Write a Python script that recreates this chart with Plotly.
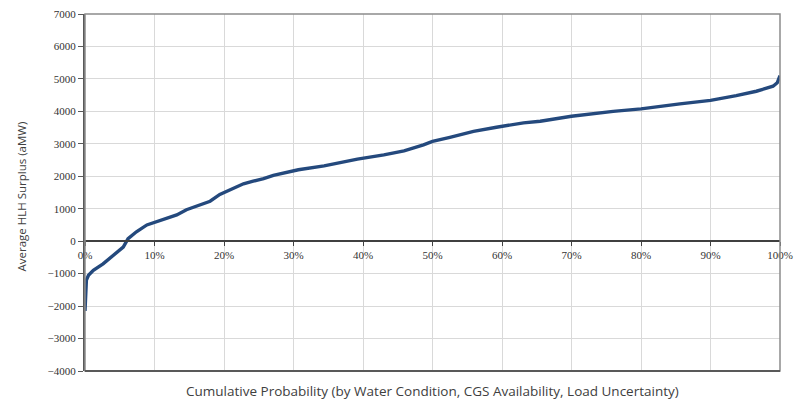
import plotly.graph_objects as go

cum_prob = [0.0, 0.001, 0.002, 0.005, 0.012, 0.026, 0.041, 0.055, 0.062, 0.074, 0.089,
            0.103, 0.118, 0.132, 0.146, 0.165, 0.18, 0.194, 0.213, 0.228, 0.242,
            0.257, 0.271, 0.29, 0.307, 0.344, 0.392, 0.43, 0.459, 0.487, 0.50,
            0.525, 0.559, 0.592, 0.631, 0.655, 0.70, 0.76, 0.80, 0.856, 0.90,
            0.937, 0.966, 0.99, 0.996, 1.0]
surplus = [-2150, -1500, -1200, -1050, -900, -700, -440, -180, 80, 290, 500,
           600, 730, 810, 970, 1100, 1230, 1440, 1615, 1770, 1850,
           1925, 2030, 2115, 2200, 2320, 2530, 2660, 2785, 2970, 3075,
           3200, 3385, 3510, 3645, 3695, 3850, 4000, 4075, 4230, 4340,
           4485, 4620, 4775, 4880, 5100]

y_ticks = [-4000, -3000, -2000, -1000, 0, 1000, 2000, 3000, 4000, 5000, 6000, 7000]
x_ticks = [0, 0.1, 0.2, 0.3, 0.4, 0.5, 0.6, 0.7, 0.8, 0.9, 1.0]
x_tick_labels = ["0%", "10%", "20%", "30%", "40%", "50%", "60%", "70%", "80%", "90%", "100%"]

x_title = "Cumulative Probability (by Water Condition, CGS Availability, Load Uncertainty)"
y_title = "Average HLH Surplus (aMW)"

y_min, y_max = -4000, 7000

fig = go.Figure()
fig.add_trace(go.Scatter(
    x=cum_prob, y=surplus, mode="lines",
    line=dict(color="#24497D", width=3.4), showlegend=False,
))

tick_font = dict(family="Liberation Serif", size=11, color="#333333")
x_title_font = dict(family="Open Sans", size=13.5, color="#404040")
y_title_font = dict(family="Open Sans", size=11.5, color="#404040")

fig.update_layout(
    width=794, height=403,
    margin=dict(l=85, r=14, t=14, b=32),
    paper_bgcolor="white", plot_bgcolor="white",
    xaxis=dict(
        range=[0, 1], tickvals=x_ticks, ticktext=x_tick_labels,
        showgrid=True, gridcolor="#D9D9D9", gridwidth=1,
        anchor="free", position=(0 - y_min) / (y_max - y_min),
        showline=True, linecolor="#404040", linewidth=2,
        ticks="outside", ticklen=4, tickcolor="#404040", tickwidth=1,
        tickfont=tick_font, zeroline=False, automargin=False,
    ),
    yaxis=dict(
        range=[y_min, y_max], tickvals=y_ticks, tickformat="d",
        showgrid=True, gridcolor="#D9D9D9", gridwidth=1,
        showline=True, linecolor="#595959", linewidth=2,
        ticks="outside", ticklen=5, tickcolor="#595959", tickwidth=1,
        tickfont=tick_font, zeroline=False, automargin=False,
    ),
    shapes=[
        dict(type="rect", xref="paper", yref="paper", x0=0, x1=1, y0=0, y1=1,
             line=dict(color="#8C8C8C", width=1.5), layer="above"),
        dict(type="line", xref="paper", yref="paper", x0=0, x1=1, y0=0, y1=0,
             line=dict(color="#595959", width=2), layer="above"),
    ],
    annotations=[
        dict(text=x_title, xref="paper", yref="paper", x=0.5, y=0,
             yshift=-9, yanchor="top", showarrow=False, font=x_title_font),
        dict(text=y_title, xref="paper", yref="paper", x=0, y=0.5,
             xshift=-64, yshift=-4, xanchor="center", yanchor="middle",
             textangle=-90, showarrow=False, font=y_title_font),
    ],
)

fig.write_html("out.html", config={"displayModeBar": False},
               post_script="document.body.style.margin='0';document.body.style.overflow='hidden';")
